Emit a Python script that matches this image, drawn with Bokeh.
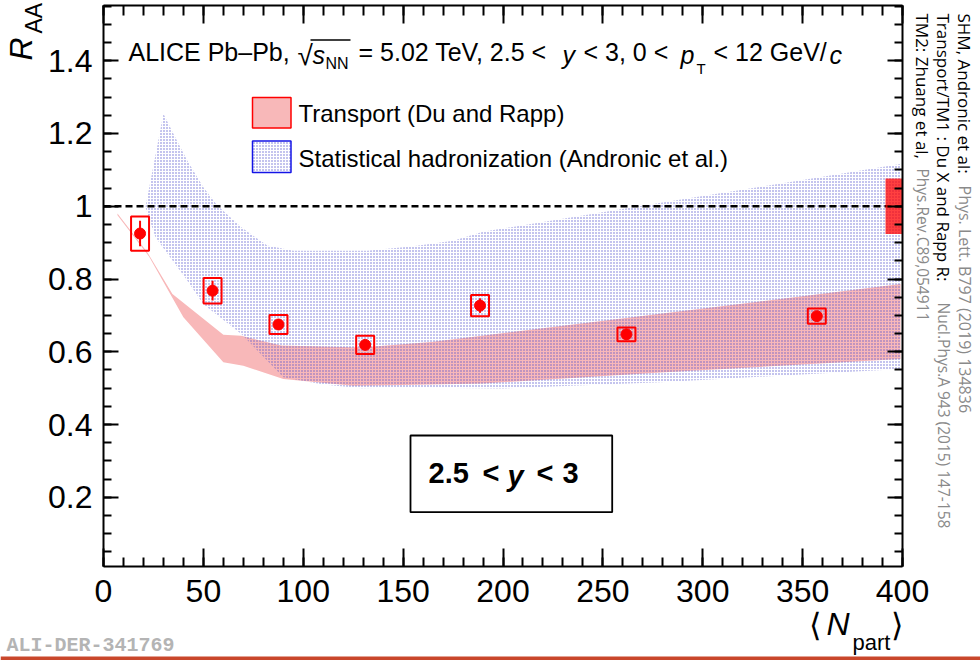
import math
from bokeh.plotting import figure
from bokeh.models import (Range1d, LinearAxis, FixedTicker, CustomJSTickFormatter,
                          Label, BoxAnnotation, ColumnDataSource)
from bokeh.embed import file_html
from bokeh.resources import INLINE

# ---------------- data ----------------
npart = [18.3, 54.6, 87.6, 131.0, 188.5, 261.8, 357.1]
raa = [0.925, 0.768, 0.675, 0.619, 0.727, 0.648, 0.698]
raa_stat = [0.035, 0.027, 0.015, 0.012, 0.020, 0.015, 0.008]
raa_syst = [0.047, 0.035, 0.026, 0.025, 0.029, 0.019, 0.021]
global_unc_npart = 400.0
global_unc = 0.076
unity = 1.0

transport_up_x = [7, 22, 34.5, 60, 69, 89, 129, 164, 399]
transport_up_y = [0.980, 0.873, 0.759, 0.647, 0.644, 0.617, 0.612, 0.627, 0.786]
transport_lo_x = [7, 22.8, 40, 60, 70, 90, 125, 150, 190, 279, 399]
transport_lo_y = [0.975, 0.862, 0.695, 0.571, 0.562, 0.525, 0.507, 0.509, 0.513, 0.543, 0.580]

shm_up_x = [21, 30, 35, 42, 50, 57, 69, 82, 95, 132, 155, 175, 190, 265, 300, 350, 399]
shm_up_y = [0.997, 1.254, 1.199, 1.125, 1.052, 1.002, 0.942, 0.892, 0.878, 0.878, 0.890,
            0.905, 0.930, 0.997, 1.028, 1.072, 1.116]
shm_lo_x = [21, 26, 42, 50, 69, 90, 110, 129, 150, 200, 279, 399]
shm_lo_y = [0.997, 0.915, 0.795, 0.731, 0.649, 0.530, 0.510, 0.500, 0.502, 0.499, 0.516, 0.553]

x_ticks = [0, 50, 100, 150, 200, 250, 300, 350, 400]
y_ticks = [0.2, 0.4, 0.6, 0.8, 1.0, 1.2, 1.4]

legend_labels = ["Transport (Du and Rapp)", "Statistical hadronization (Andronic et al.)"]

# ---------------- layout ----------------
W, H = 980, 660
# plot area (in canvas pixels) of the reference
PL, PR, PT, PB = 103.0, 902.0, 5.0, 566.0
XMIN, XMAX = 0.0, 400.0
YMIN = 0.01
YSCALE = 363.9                      # pixels per unit of R_AA
YMAX = YMIN + (PB - PT) / YSCALE

def dx(px):
    return XMIN + (px - PL) * (XMAX - XMIN) / (PR - PL)

def dy(py):
    return YMIN + (PB - py) / YSCALE

FONT = "Liberation Sans"
RED = "#ff0000"
PINK = "#f8b8b9"
DOTS = "#4646cc"

p = figure(width=W, height=H, x_range=Range1d(dx(0), dx(W)), y_range=Range1d(dy(H), dy(0)),
           output_backend="svg", toolbar_location=None,
           x_axis_location=None, y_axis_location=None, min_border=0)
p.grid.visible = False
p.outline_line_color = None
p.background_fill_color = "white"
p.border_fill_color = "white"

x_minor = [v for v in range(0, 401, 10)]
y_minor = [round(0.05 * i, 2) for i in range(1, 32)]

def style_axis(ax, tin, tmin, labels=True):
    ax.axis_line_width = 2
    ax.axis_line_color = "black"
    ax.major_tick_line_width = 2
    ax.minor_tick_line_width = 2
    ax.major_tick_out = 0
    ax.minor_tick_out = 0
    ax.major_tick_in = tin
    ax.minor_tick_in = tmin
    if labels:
        ax.major_label_text_font = FONT
        ax.major_label_text_font_size = "32px"
        ax.major_label_text_color = "black"
    else:
        ax.major_label_text_color = None

xb = LinearAxis(ticker=FixedTicker(ticks=x_ticks, minor_ticks=x_minor),
                fixed_location=YMIN, bounds=(XMIN, XMAX))
style_axis(xb, 18, 9)
xb.major_label_standoff = 13
p.add_layout(xb, "below")
xt = LinearAxis(ticker=FixedTicker(ticks=x_ticks, minor_ticks=x_minor),
                fixed_location=YMAX, bounds=(XMIN, XMAX))
style_axis(xt, 18, 10, labels=False)
p.add_layout(xt, "above")

yfmt = CustomJSTickFormatter(code="return String(Number(tick.toFixed(2)));")
yl = LinearAxis(ticker=FixedTicker(ticks=y_ticks, minor_ticks=y_minor), formatter=yfmt,
                fixed_location=XMIN, bounds=(YMIN, YMAX))
style_axis(yl, 15, 8)
yl.major_label_standoff = 11
p.add_layout(yl, "left")
yr = LinearAxis(ticker=FixedTicker(ticks=y_ticks, minor_ticks=y_minor),
                fixed_location=XMAX, bounds=(YMIN, YMAX))
style_axis(yr, 15, 8, labels=False)
p.add_layout(yr, "right")

# ---------------- bands ----------------
tr_x = transport_up_x + transport_lo_x[::-1]
tr_y = transport_up_y + transport_lo_y[::-1]
p.patch(tr_x, tr_y, fill_color=PINK, fill_alpha=1.0, line_alpha=0)

shm_x = shm_up_x + shm_lo_x[::-1]
shm_y = shm_up_y + shm_lo_y[::-1]
p.patch(shm_x, shm_y, fill_alpha=0, line_alpha=0, hatch_pattern="dot",
        hatch_color=DOTS, hatch_scale=3, hatch_weight=1, hatch_alpha=0.8)

# unity line
p.line([XMIN, XMAX], [unity, unity], line_color="black", line_width=2.5, line_dash="7 4")

# global uncertainty box (drawn at the right edge)
p.vbar(x=global_unc_npart - 4.25, width=8.5, bottom=unity - global_unc, top=unity + global_unc,
       fill_color=RED, fill_alpha=0.75, line_alpha=0)

# ---------------- data points ----------------
src = ColumnDataSource(dict(
    x=npart, y=raa,
    lo=[v - e for v, e in zip(raa, raa_stat)],
    hi=[v + e for v, e in zip(raa, raa_stat)],
    sh=[2 * s for s in raa_syst],
))
p.rect(x="x", y="y", width=9, height="sh", source=src, fill_alpha=0,
       line_color=RED, line_width=2)
p.segment(x0="x", y0="lo", x1="x", y1="hi", source=src, line_color=RED, line_width=2)
p.scatter(x="x", y="y", source=src, size=11, marker="circle", fill_color=RED, line_color=RED)

# ---------------- texts (positions given as cap-centre in canvas pixels) ----------------
def lab(text, px, py, size, style="normal", color="black", font=FONT, angle=0.0,
        align="left", baseline="middle"):
    p.add_layout(Label(x=dx(px), y=dy(py), text=text, text_font=font,
                       text_font_size=f"{size}px", text_font_style=style,
                       text_color=color, angle=angle, text_align=align,
                       text_baseline=baseline))

# legend (boxes + labels)
p.quad(left=[dx(252)], right=[dx(290.5)], top=[dy(97)], bottom=[dy(127.5)],
       fill_color=PINK, line_color=RED, line_width=1.5)
p.quad(left=[dx(252)], right=[dx(290.5)], top=[dy(140.5)], bottom=[dy(172)],
       fill_alpha=0, line_color="#1414e6", line_width=1.5,
       hatch_pattern="dot", hatch_color=DOTS, hatch_scale=3, hatch_weight=1, hatch_alpha=0.8)
lab(legend_labels[0], 298, 113.3, 24)
lab(legend_labels[1], 298, 158.3, 24)

# title
TC = 51.5
lab("ALICE Pb\u2013Pb,", 128, TC, 25)
lab("\u221a", 297, TC + 3, 28)
lab("s", 312, TC + 3, 25, "italic")
lab("NN", 325, 62.5, 16)
lab("= 5.02 TeV, 2.5 <", 358, TC, 25)
lab("y", 562, TC + 3, 25, "italic")
lab("< 3, 0 <", 583, TC, 25)
lab("p", 680, TC + 3, 25, "italic")
lab("T", 696, 68.3, 15)
lab("< 12 GeV/", 713, TC, 25)
lab("c", 829, TC + 3, 25, "italic")
p.segment(x0=[dx(310)], y0=[dy(39.5)], x1=[dx(350)], y1=[dy(39.5)],
          line_color="black", line_width=1.5)

# axis titles
lab("R", 20, 60, 32, "italic", angle=math.pi / 2)
lab("AA", 33, 33, 23, angle=math.pi / 2)
lab("\u27e8", 808, 624, 32)
lab("N", 826, 623.3, 32, "italic")
lab("part", 852, 642, 22)
lab("\u27e9", 890, 624, 32)

# rapidity box
p.add_layout(BoxAnnotation(left=dx(410), right=dx(611.7), top=dy(435), bottom=dy(511.7),
                           fill_alpha=0, line_color="black", line_alpha=1.0, line_width=1.8))
RC = 472
lab("2.5", 428, RC, 29, "bold")
lab("<", 482, RC, 29, "bold")
lab("y", 507, RC + 3, 29, "bold italic")
lab("<", 536, RC, 29, "bold")
lab("3", 562, RC, 29, "bold")

# references on the right (rotated, reading downwards)
RF = "Open Sans"
GREY = "#8a8a8a"
ang = -math.pi / 2
lab("SHM, Andronic et al:", 964, 13, 17, font=RF, angle=ang)
lab("Phys. Lett. B797 (2019) 134836", 964, 185, 16, font=RF, angle=ang, color=GREY)
lab("Transport/TM1 : Du X and Rapp R:", 943, 13, 17, font=RF, angle=ang)
lab("Nucl.Phys.A 943 (2015) 147-158", 943, 302, 15.5, font=RF, angle=ang, color=GREY)
lab("TM2: Zhuang et al,", 922, 13, 17, font=RF, angle=ang)
lab("Phys.Rev.C89,054911", 922, 168, 15.5, font=RF, angle=ang, color=GREY)

# figure id and bottom bar
lab("ALI-DER-341769", 6, 645, 20, "bold", color="#b4b4b4", font="Liberation Mono")
p.add_layout(BoxAnnotation(left=dx(0), right=dx(W), top=dy(656), bottom=dy(H),
                           fill_color="#c9472b", fill_alpha=1.0, line_alpha=0))

open("out.html", "w").write(file_html(p, INLINE))
